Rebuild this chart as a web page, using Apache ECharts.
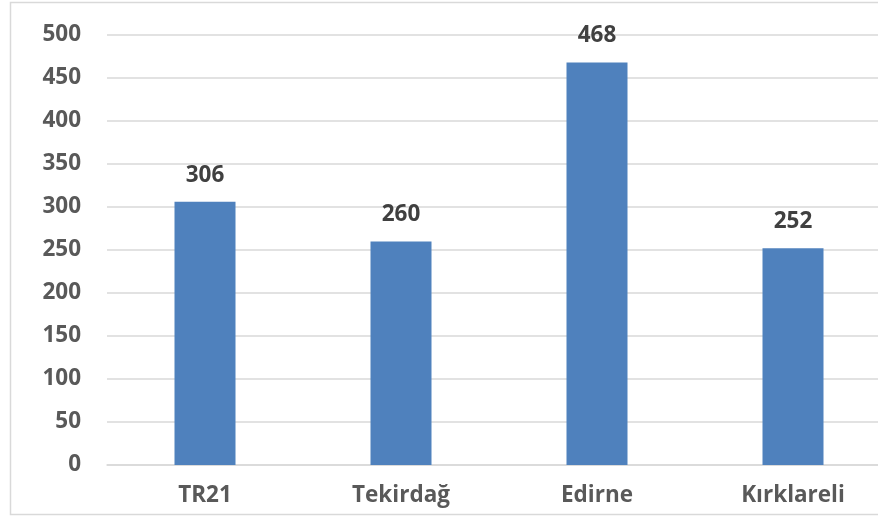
<!DOCTYPE html>
<html><head><meta charset="utf-8">
<script src="https://cdn.jsdelivr.net/npm/echarts@6/dist/echarts.min.js"></script>
<style>html,body{margin:0;padding:0;background:#fff}#c{width:878px;height:516px}</style>
</head><body><div id="c"></div>
<script>
const categories = ['TR21', 'Tekirdağ', 'Edirne', 'Kırklareli'];
const values = [306, 260, 468, 252];
const yMin = 0, yMax = 500, yStep = 50;

const chart = echarts.init(document.getElementById('c'), null, {renderer: 'canvas'});
chart.setOption({
  animation: false,
  backgroundColor: '#ffffff',
  graphic: [{
    type: 'rect', shape: {x: 10.5, y: 2.5, width: 1000, height: 512},
    style: {fill: 'none', stroke: '#d9d9d9', lineWidth: 1.5}, silent: true, z: -1
  }],
  grid: {left: 107, top: 35, width: 784, height: 430, containLabel: false, outerBoundsMode: 'none'},
  xAxis: {
    type: 'category', data: categories,
    axisLine: {show: true, lineStyle: {color: '#d9d9d9', width: 1.5}},
    axisTick: {show: false},
    axisLabel: {color: '#595959', fontFamily: 'Open Sans', fontWeight: 'bold', fontSize: 22.5, margin: 19}
  },
  yAxis: {
    type: 'value', min: yMin, max: yMax, interval: yStep,
    axisLine: {show: false}, axisTick: {show: false},
    splitLine: {lineStyle: {color: '#d9d9d9', width: 1.5}},
    axisLabel: {color: '#595959', fontFamily: 'Open Sans', fontWeight: 'bold', fontSize: 22.5, margin: 26}
  },
  series: [{
    type: 'bar', data: values, barWidth: 61,
    itemStyle: {color: '#4f81bd'},
    label: {show: true, position: 'top', distance: 15, color: '#404040',
      fontFamily: 'Open Sans', fontWeight: 'bold', fontSize: 22.5}
  }]
});
</script></body></html>
